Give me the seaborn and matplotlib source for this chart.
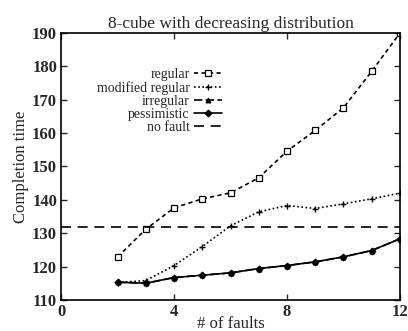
import matplotlib
matplotlib.use("Agg")
import matplotlib.pyplot as plt
import seaborn as sns
import pandas as pd

faults = [2, 3, 4, 5, 6, 7, 8, 9, 10, 11, 12]
regular = [122.9, 131.2, 137.6, 140.3, 142.1, 146.6, 154.6, 160.8, 167.6, 178.5, 190.0]
modified_regular = [115.2, 115.8, 120.3, 126.0, 132.2, 136.4, 138.3, 137.4, 138.8, 140.3, 142.0]
irregular = [115.3, 115.0, 116.7, 117.4, 118.1, 119.4, 120.3, 121.4, 122.9, 124.8, 128.3]
pessimistic = [115.3, 115.0, 116.7, 117.4, 118.1, 119.4, 120.3, 121.4, 122.9, 124.8, 128.3]
no_fault_x = [0, 12]
no_fault = [132.0, 132.0]

x_ticks = [0, 4, 8, 12]
y_ticks = [110, 120, 130, 140, 150, 160, 170, 180, 190]

sns.set_style("ticks")
plt.rcParams['font.family'] = ['Liberation Serif', 'DejaVu Serif']

fig = plt.figure(figsize=(4.08, 3.31), dpi=100)
ax = fig.add_axes([0.15, 0.094, 0.83, 0.806])

df = pd.concat([
    pd.DataFrame({"faults": faults, "time": regular, "series": "regular"}),
    pd.DataFrame({"faults": faults, "time": modified_regular, "series": "modified regular"}),
    pd.DataFrame({"faults": faults, "time": irregular, "series": "irregular"}),
    pd.DataFrame({"faults": faults, "time": pessimistic, "series": "pessimistic"}),
    pd.DataFrame({"faults": no_fault_x, "time": no_fault, "series": "no fault"}),
])

styles = {
    "regular": dict(ls=(0, (2.5, 2)), marker="s", ms=4, mfc="white", mew=0.9),
    "modified regular": dict(ls=(0, (1, 1.5)), marker="+", ms=5, mew=1.0),
    "irregular": dict(ls=(0, (5, 2)), marker="^", ms=3.5, mew=0.8),
    "pessimistic": dict(ls="-", marker="D", ms=3.5, mew=0.8),
    "no fault": dict(ls=(0, (6, 4)), marker=None),
}

for name in ["regular", "modified regular", "irregular", "pessimistic", "no fault"]:
    sub = df[df["series"] == name]
    st = styles[name]
    sns.lineplot(data=sub, x="faults", y="time", ax=ax, color="black", lw=1.2,
                 linestyle=st["ls"], marker=st["marker"],
                 markersize=st.get("ms", 0), markerfacecolor=st.get("mfc", "black"),
                 markeredgecolor="black", markeredgewidth=st.get("mew", 1),
                 label=name, clip_on=True)

ax.set_xlim(0, 12)
ax.set_ylim(110, 190)
ax.set_xticks(x_ticks)
ax.set_yticks(y_ticks)
ax.tick_params(direction="in", top=True, right=True, length=4, width=1,
               labelsize=12, pad=3)
for lab in ax.get_xticklabels() + ax.get_yticklabels():
    lab.set_fontweight("bold")
for sp in ax.spines.values():
    sp.set_linewidth(1.2)
    sp.set_color("black")

ax.set_title("8-cube with decreasing distribution", fontsize=12.5, pad=4)
ax.set_xlabel("# of faults", fontsize=12, labelpad=-3)
ax.set_ylabel("Completion time", fontsize=12, labelpad=2)

leg = ax.legend(loc="upper right", bbox_to_anchor=(0.49, 0.89), frameon=False,
                markerfirst=False, fontsize=10, handlelength=2.0,
                handletextpad=0.3, labelspacing=0.0, borderaxespad=0)
for t in leg.get_texts():
    t.set_ha("right")
leg._legend_box.align = "right"

fig.savefig("out.png", dpi=100)
